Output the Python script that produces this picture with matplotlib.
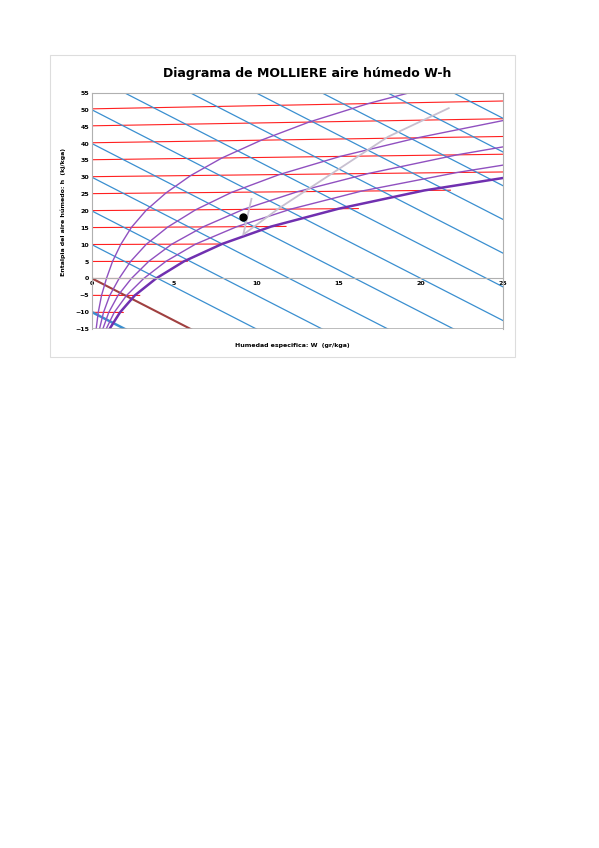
import numpy as np
import matplotlib.pyplot as plt
from matplotlib.patches import Rectangle

# temperatures (C) and moisture content W (g/kg) of the relative-humidity curves
rh_t = [-15, -10, -5, 0, 5, 10, 15, 20, 25, 30, 35, 40, 45, 50, 55]
rh_w = {
    100: [1.05, 1.7, 2.6, 3.9, 5.6, 7.9, 10.9, 15.0, 20.2, 27.5],
    80: [0.85, 1.35, 2.1, 3.15, 4.5, 6.3, 8.8, 12.1, 16.4, 22.2, 29.5],
    60: [0.65, 1.02, 1.58, 2.4, 3.45, 4.85, 6.75, 9.2, 12.5, 16.8, 22.2, 29.0],
    40: [0.45, 0.7, 1.08, 1.65, 2.35, 3.3, 4.6, 6.3, 8.5, 11.4, 15.1, 19.8, 25.6],
    20: [0.25, 0.38, 0.58, 0.88, 1.25, 1.75, 2.4, 3.3, 4.5, 6.0, 7.9, 10.3, 13.2, 16.8, 21.2],
}
rh_width = {100: 1.8, 80: 1.0, 60: 1.0, 40: 1.0, 20: 1.0}

# isotherms (C) and where they end (g/kg)
iso_t = [-10, -5, 0, 5, 10, 15, 20, 25, 30, 35, 40, 45, 50]
iso_end = [1.9, 2.9, 4.2, 5.8, 8.0, 11.8, 16.2, 21.8, 25, 25, 25, 25, 25]

# isenthalps (kJ/kg)
h_lines = [-10, 10, 20, 30, 40, 50, 60, 70, 80, 90, 100, 110, 120]

# process path and state point
path_w = [9.7, 9.2, 11.4, 18.0, 21.7]
path_y = [23.6, 13.0, 20.9, 42.0, 50.5]
point = (9.2, 18.2)


def skew_y(t, w):
    w = np.asarray(w, dtype=float)
    return 1.006 * t + 0.00186 * t * w


fig = plt.figure(figsize=(5.99, 8.48), dpi=100)
fig.patches.append(Rectangle((50 / 599, 1 - 357 / 848), 465 / 599, 302 / 848,
                             transform=fig.transFigure, fill=False,
                             edgecolor='#dddddd', lw=0.8))
ax = fig.add_axes([92 / 599, 1 - 329 / 848, 411 / 599, 236 / 848])

for t, we in zip(iso_t, iso_end):
    w = np.array([0, we])
    ax.plot(w, skew_y(t, w), color='#ff2020', lw=0.8)

wx = np.array([0, 25])
for h in h_lines:
    ax.plot(wx, h - 2.5 * wx, color='#3a8fd0', lw=0.9 if h != -10 else 1.8)
ax.plot(wx, 0 - 2.5 * wx, color='#a04040', lw=1.5)

for rh, ws in rh_w.items():
    ts = rh_t[:len(ws)]
    ys = [skew_y(t, w) for t, w in zip(ts, ws)]
    col = '#7030b0' if rh == 100 else '#9050c0'
    ax.plot(ws, ys, color=col, lw=rh_width[rh])

ax.plot(path_w, path_y, color='#c8c0d0', lw=1.3)
ax.plot(*point, 'o', color='black', ms=5)

ax.set_xlim(0, 25)
ax.set_ylim(-15, 55)
ax.set_yticks(range(-15, 56, 5))
ax.set_xticks([0, 5, 10, 15, 20, 25])
ax.spines['bottom'].set_position(('data', 0))
for s in ax.spines.values():
    s.set_color('#b0b0b0')
    s.set_linewidth(0.8)
ax.axhline(-15, color='#b0b0b0', lw=1.2)
ax.tick_params(length=0, labelsize=4.5, pad=2)
for lab in ax.get_xticklabels() + ax.get_yticklabels():
    lab.set_fontweight('bold')

fig.text(307 / 599, 1 - 73 / 848, 'Diagrama de MOLLIERE aire húmedo W-h',
         ha='center', va='center', fontsize=9, fontweight='bold')
fig.text(292 / 599, 1 - 345 / 848, 'Humedad especifica: W  (gr/kga)',
         ha='center', va='center', fontsize=4.5, fontweight='bold')
fig.text(63 / 599, 1 - 212 / 848, 'Entalpia del aire húmedo: h  (kj/kga)',
         ha='center', va='center', fontsize=4.5, fontweight='bold', rotation=90)

fig.savefig('out.png', dpi=100)
